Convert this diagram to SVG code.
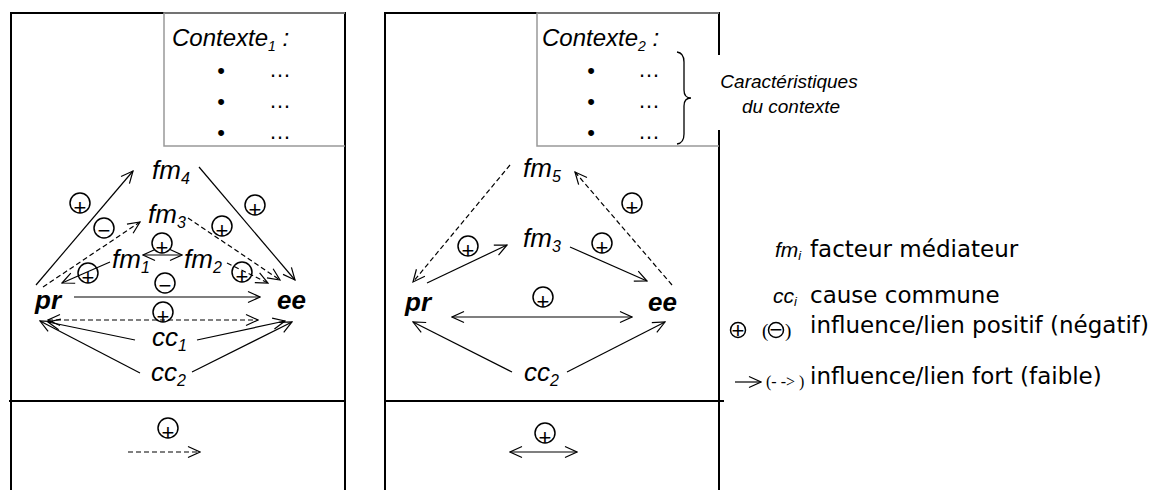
<svg xmlns="http://www.w3.org/2000/svg" width="1157" height="490" viewBox="0 0 1157 490">
<defs>
<marker id="ah" viewBox="0 0 14 14" refX="13" refY="7" markerWidth="14" markerHeight="14" markerUnits="userSpaceOnUse" orient="auto-start-reverse">
<path d="M1,1.5 L13,7 L1,12.5" fill="none" stroke="#000" stroke-width="1.2"/>
</marker>
<style>
.frame{fill:none;stroke:#000;stroke-width:2}
.ctx{fill:none;stroke:#999;stroke-width:1.5}
.a{fill:none;stroke:#000;stroke-width:1.2;marker-end:url(#ah)}
.d{stroke-dasharray:5,3}
.b{marker-start:url(#ah)}
.lbl{font-family:"Liberation Sans",Arial,sans-serif;font-style:italic;font-size:26px;fill:#000}
.key{font-family:"Liberation Sans",Arial,sans-serif;font-style:italic;font-weight:bold;font-size:26px;fill:#000}
.ct{font-family:"Liberation Sans",Arial,sans-serif;font-style:italic;font-size:24px;fill:#000}
.bl{font-family:"Liberation Sans",Arial,sans-serif;font-size:22px;fill:#000}
.sg circle{fill:none;stroke:#000;stroke-width:1.5}
.sg text{font-family:"Liberation Sans",Arial,sans-serif;font-size:22px;text-anchor:middle;fill:#000}
.lg{font-family:"DejaVu Sans",Verdana,sans-serif;font-size:23px;fill:#000}
.cap{font-family:"Liberation Sans",Arial,sans-serif;font-style:italic;font-size:19px;text-anchor:middle;fill:#000}
</style>
</defs>
<rect width="1157" height="490" fill="#fff"/>

<g id="panel1">
<path class="frame" d="M11,490 V13 H345 V490"/>
<line x1="9" y1="401" x2="345" y2="401" stroke="#000" stroke-width="2"/>
<path class="ctx" d="M345,13 H164 V146 H345"/>
</g>
<g id="contexte1">
<text class="ct" x="172" y="46">Contexte<tspan font-size="14" dy="5">1</tspan><tspan dy="-5"> :</tspan></text>
<text class="bl" x="221" y="78" text-anchor="middle">•</text>
<text class="bl" x="221" y="109" text-anchor="middle">•</text>
<text class="bl" x="221" y="140" text-anchor="middle">•</text>
<text class="bl" x="269" y="77">…</text>
<text class="bl" x="269" y="108">…</text>
<text class="bl" x="269" y="139">…</text>
</g>

<g id="panel2">
<path class="frame" d="M385,490 V13 H719 V55"/>
<line x1="719" y1="130" x2="719" y2="490" stroke="#000" stroke-width="2"/>
<line x1="385" y1="401" x2="724" y2="401" stroke="#000" stroke-width="2"/>
<path class="ctx" d="M719,13 H537 V146 H719"/>
</g>
<g id="contexte2">
<text class="ct" x="542" y="46">Contexte<tspan font-size="14" dy="5">2</tspan><tspan dy="-5"> :</tspan></text>
<text class="bl" x="591" y="78" text-anchor="middle">•</text>
<text class="bl" x="591" y="109" text-anchor="middle">•</text>
<text class="bl" x="591" y="140" text-anchor="middle">•</text>
<text class="bl" x="638" y="77">…</text>
<text class="bl" x="638" y="108">…</text>
<text class="bl" x="638" y="139">…</text>
<path d="M677,52 Q684,53 684,62 V90 Q684,98 691,98 Q684,98 684,106 V134 Q684,143 677,144" fill="none" stroke="#000" stroke-width="1.3"/>
<text class="cap" x="789" y="88">Caractéristiques</text>
<text class="cap" x="791" y="113">du contexte</text>
</g>

<g id="p1-fm4"><text class="lbl" x="152" y="179" font-size="27">fm<tspan font-size="16" dy="5">4</tspan></text></g>
<g id="p1-fm3"><text class="lbl" x="148" y="223">fm<tspan font-size="16" dy="5">3</tspan></text></g>
<g id="p1-fm1"><text class="lbl" x="112" y="268">fm<tspan font-size="16" dy="5">1</tspan></text></g>
<g id="p1-fm2"><text class="lbl" x="184" y="268">fm<tspan font-size="16" dy="5">2</tspan></text></g>
<g id="p1-pr"><text class="key" x="35" y="309">pr</text></g>
<g id="p1-ee"><text class="key" x="277" y="309">ee</text></g>
<g id="p1-cc1"><text class="lbl" x="152" y="346">cc<tspan font-size="16" dy="5">1</tspan></text></g>
<g id="p1-cc2"><text class="lbl" x="151" y="381">cc<tspan font-size="16" dy="5">2</tspan></text></g>

<g id="p2-fm5"><text class="lbl" x="523" y="177">fm<tspan font-size="16" dy="5">5</tspan></text></g>
<g id="p2-fm3"><text class="lbl" x="523" y="247">fm<tspan font-size="16" dy="5">3</tspan></text></g>
<g id="p2-pr"><text class="key" x="405" y="311">pr</text></g>
<g id="p2-ee"><text class="key" x="648" y="311">ee</text></g>
<g id="p2-cc2"><text class="lbl" x="524" y="381">cc<tspan font-size="16" dy="5">2</tspan></text></g>

<g id="connectors">
<line class="a" x1="36" y1="285" x2="133" y2="171"/>
<line class="a" x1="199" y1="167" x2="295" y2="280"/>
<line class="a d" x1="43" y1="287" x2="140" y2="222"/>
<line class="a d" x1="188" y1="218" x2="280" y2="280"/>
<line class="a b" x1="143" y1="255" x2="182" y2="255"/>
<line class="a" x1="110" y1="262" x2="62" y2="283"/>
<line class="a d" x1="227" y1="263" x2="268" y2="283"/>
<line class="a" x1="74" y1="297" x2="260" y2="297"/>
<line class="a d b" x1="48" y1="320" x2="258" y2="320"/>
<line class="a" x1="135" y1="340" x2="48" y2="322"/>
<line class="a" x1="140" y1="373" x2="40" y2="321"/>
<line class="a" x1="197" y1="340" x2="285" y2="321"/>
<line class="a" x1="192" y1="372" x2="292" y2="322"/>
<line class="a d" x1="128" y1="452" x2="200" y2="452"/>

<line class="a d" x1="510" y1="165" x2="413" y2="282"/>
<line class="a d" x1="672" y1="285" x2="575" y2="172"/>
<line class="a" x1="427" y1="283" x2="507" y2="245"/>
<line class="a" x1="570" y1="247" x2="647" y2="281"/>
<line class="a b" x1="452" y1="317" x2="632" y2="317"/>
<line class="a" x1="512" y1="372" x2="413" y2="322"/>
<line class="a" x1="567" y1="372" x2="665" y2="322"/>
<line class="a b" x1="510" y1="452" x2="577" y2="452"/>
</g>

<g id="signs" class="sg">
<circle cx="80" cy="203" r="10"/><text x="80" y="214.5">+</text>
<circle cx="255" cy="205" r="10"/><text x="255" y="216.5">+</text>
<circle cx="104" cy="228" r="10"/><text x="104" y="238">−</text>
<circle cx="222" cy="226" r="10"/><text x="222" y="237.5">+</text>
<circle cx="162" cy="243" r="10"/><text x="162" y="254.5">+</text>
<circle cx="88" cy="273" r="10"/><text x="88" y="284.5">+</text>
<circle cx="165" cy="283" r="10"/><text x="165" y="293">−</text>
<circle cx="242" cy="272" r="10"/><text x="242" y="283.5">+</text>
<circle cx="163" cy="312" r="10"/><text x="163" y="323.5">+</text>
<circle cx="168" cy="428" r="10"/><text x="168" y="439.5">+</text>
<circle cx="632" cy="203" r="10"/><text x="632" y="214.5">+</text>
<circle cx="468" cy="246" r="10"/><text x="468" y="257.5">+</text>
<circle cx="602" cy="243" r="10"/><text x="602" y="254.5">+</text>
<circle cx="543" cy="297" r="10"/><text x="543" y="308.5">+</text>
<circle cx="545" cy="433" r="10"/><text x="545" y="444.5">+</text>
</g>

<g id="legend">
<text x="775" y="257" font-family="Liberation Sans, Arial, sans-serif" font-style="italic" font-size="21">fm<tspan font-size="13" dy="3">i</tspan></text>
<text class="lg" x="810" y="257">facteur médiateur</text>
<text x="773" y="303" font-family="Liberation Sans, Arial, sans-serif" font-style="italic" font-size="21">cc<tspan font-size="13" dy="3">i</tspan></text>
<text class="lg" x="810" y="303">cause commune</text>
<g class="sg">
<circle cx="738" cy="330" r="7.5"/><text x="738" y="338" font-size="16">+</text>
<circle cx="776" cy="330" r="7.5"/><text x="776" y="337" font-size="16">−</text>
</g>
<text x="762" y="337" font-family="Liberation Serif, serif" font-size="19">(</text>
<text x="785" y="337" font-family="Liberation Serif, serif" font-size="19">)</text>
<text class="lg" x="810" y="333">influence/lien positif (négatif)</text>
<line class="a" x1="735" y1="382" x2="761" y2="382"/>
<text x="766" y="387" font-family="Liberation Serif, serif" font-size="16">(- -&gt; )</text>
<text class="lg" x="810" y="384">influence/lien fort (faible)</text>
</g>
</svg>
